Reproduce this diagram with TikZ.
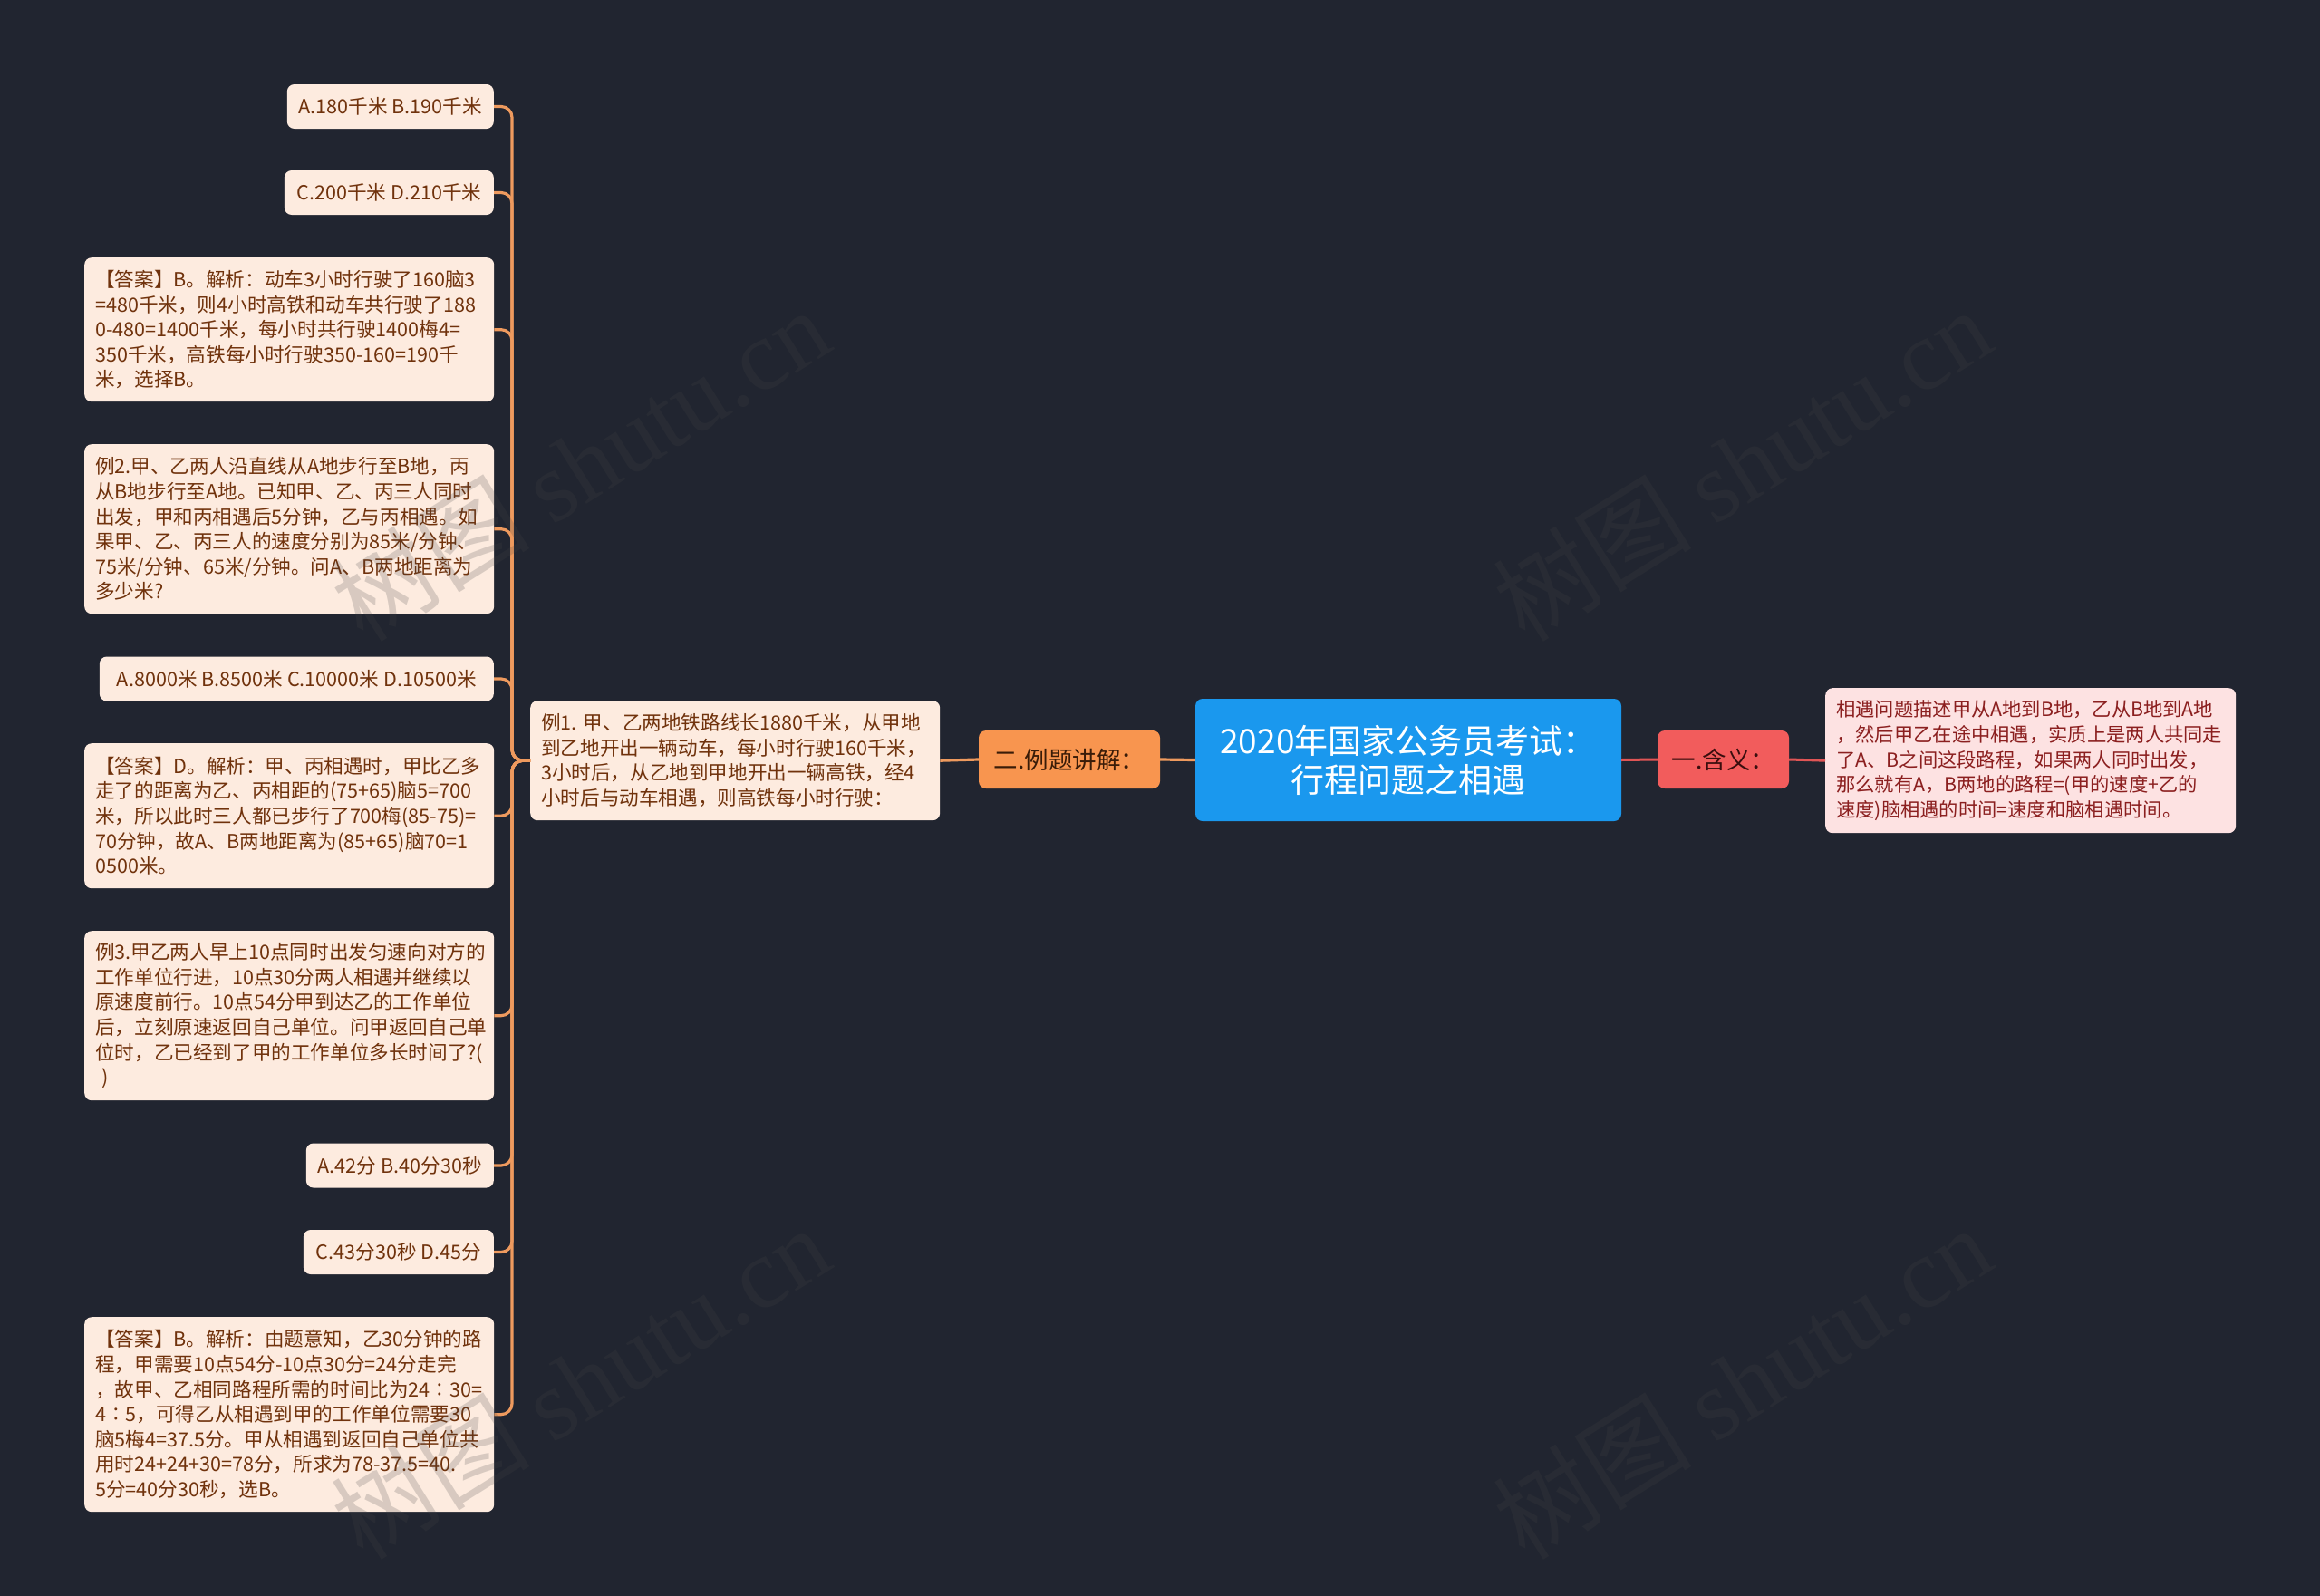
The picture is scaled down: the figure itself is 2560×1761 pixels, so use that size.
\documentclass[tikz,border=0pt]{standalone}
\usepackage{fontspec}
\setmainfont{Noto Sans CJK SC}
\newfontfamily\wmlatin{Liberation Serif}
\definecolor{bgc}{HTML}{212530}
\definecolor{peach}{HTML}{FDEBDF}
\definecolor{leaftext}{HTML}{70320C}
\definecolor{orl}{HTML}{EE9A5E}
\definecolor{orbox}{HTML}{F8954F}
\definecolor{ortext}{HTML}{3A1C08}
\definecolor{rootc}{HTML}{1A98EE}
\definecolor{redbox}{HTML}{F25C5C}
\definecolor{redtext}{HTML}{3A0E0E}
\definecolor{redl}{HTML}{E05555}
\definecolor{pinkbox}{HTML}{FDE2E2}
\definecolor{pinktext}{HTML}{8B1F1F}
\definecolor{wmgray}{HTML}{454545}
\exhyphenpenalty=10000
\hyphenpenalty=10000
\begin{document}
\begin{tikzpicture}[x=1pt,y=-1pt,
  leaf/.style={fill=peach, text=leaftext, rounded corners=8pt, inner xsep=12pt, inner ysep=6pt,
    font=\fontsize{21.6}{27.6}\selectfont},
  multi/.style={leaf, text width=428pt, align=left, minimum width=452pt, anchor=north west},
  opt/.style={leaf, minimum height=49pt, anchor=east},
  conn/.style={draw=orl, line width=3.2pt, rounded corners=12pt},
  rconn/.style={draw=redl, line width=3pt},
  wm/.style={text=wmgray, opacity=0.2, rotate=32, font=\fontsize{110}{110}\selectfont}
]
\fill[bgc] (0,0) rectangle (2560,1761);
\useasboundingbox (0,0) rectangle (2560,1761);

% central topic
\node[fill=rootc, text=white, rounded corners=8pt, minimum width=470pt, minimum height=135pt,
  align=center, font=\fontsize{37}{43}\selectfont] (root) at (1554,838.5)
  {2020年国家公务员考试：\\行程问题之相遇};

% right branch
\node[fill=redbox, text=redtext, rounded corners=8pt, minimum width=145pt, minimum height=64pt,
  font=\fontsize{26.5}{30}\selectfont] (cat1) at (1901.5,838) {一.含义：};
\node[fill=pinkbox, text=pinktext, rounded corners=8pt, inner xsep=12pt, inner ysep=6pt,
  text width=429pt, align=left, minimum width=453pt, minimum height=160pt, anchor=north west,
  font=\fontsize{21.3}{27.6}\selectfont] (rbox) at (2014,759)
  {相遇问题描述甲从A地到B地，乙从B地到A地\\
   ，然后甲乙在途中相遇，实质上是两人共同走\\
   了A、B之间这段路程，如果两人同时出发，\\
   那么就有A，B两地的路程=(甲的速度+乙的\\
   速度)脑相遇的时间=速度和脑相遇时间。};

% left branch
\node[fill=orbox, text=ortext, rounded corners=8pt, minimum width=200pt, minimum height=64pt,
  font=\fontsize{26.5}{30}\selectfont] (cat2) at (1180,838) {二.例题讲解：};
\node[multi, minimum height=132pt] (ex1) at (585,773)
  {例1.~甲、乙两地铁路线长1880千米，从甲地\\
   到乙地开出一辆动车，每小时行驶160千米，\\
   3小时后，从乙地到甲地开出一辆高铁，经4\\
   小时后与动车相遇，则高铁每小时行驶：};

% children of ex1
\node[opt, minimum width=228pt] (c1) at (545,117.5) {A.180千米 B.190千米};
\node[opt, minimum width=231pt] (c2) at (545,212.5) {C.200千米 D.210千米};
\node[multi, minimum height=159pt] (c3) at (93,284)
  {【答案】B。解析：动车3小时行驶了160脑3\\
   =480千米，则4小时高铁和动车共行驶了188\\
   0-480=1400千米，每小时共行驶1400梅4=\\
   350千米，高铁每小时行驶350-160=190千\\
   米，选择B。};
\node[multi, minimum height=187pt] (c4) at (93,490)
  {例2.甲、乙两人沿直线从A地步行至B地，丙\\
   从B地步行至A地。已知甲、乙、丙三人同时\\
   出发，甲和丙相遇后5分钟，乙与丙相遇。如\\
   果甲、乙、丙三人的速度分别为85米/分钟、\\
   75米/分钟、65米/分钟。问A、B两地距离为\\
   多少米?};
\node[opt, minimum width=435pt] (c5) at (545,749) {A.8000米 B.8500米 C.10000米 D.10500米};
\node[multi, minimum height=160pt] (c6) at (93,820)
  {【答案】D。解析：甲、丙相遇时，甲比乙多\\
   走了的距离为乙、丙相距的(75+65)脑5=700\\
   米，所以此时三人都已步行了700梅(85\mbox{-}75)=\\
   70分钟，故A、B两地距离为(85+65)脑70=1\\
   0500米。};
\node[multi, minimum height=187pt] (c7) at (93,1027)
  {例3.甲乙两人早上10点同时出发匀速向对方的\\
   工作单位行进，10点30分两人相遇并继续以\\
   原速度前行。10点54分甲到达乙的工作单位\\
   后，立刻原速返回自己单位。问甲返回自己单\\
   位时，乙已经到了甲的工作单位多长时间了?(\\
   ~)};
\node[opt, minimum width=207pt] (c8) at (545,1286) {A.42分 B.40分30秒};
\node[opt, minimum width=210pt] (c9) at (545,1381.5) {C.43分30秒 D.45分};
\node[multi, minimum height=215pt] (c10) at (93,1453)
  {【答案】B。解析：由题意知，乙30分钟的路\\
   程，甲需要10点54分\mbox{-}10点30分=24分走完\\
   ，故甲、乙相同路程所需的时间比为24∶30=\\
   4∶5，可得乙从相遇到甲的工作单位需要30\\
   脑5梅4=37.5分。甲从相遇到返回自己单位共\\
   用时24+24+30=78分，所求为78\mbox{-}37.5=40.\\
   5分=40分30秒，选B。};

% connectors
\draw[rconn] (root.east) -- (cat1.west);
\draw[rconn] (cat1.east) -- (rbox.west);
\draw[conn] (root.west) -- (cat2.east);
\draw[conn] (cat2.west) -- (ex1.east);
\foreach \c in {c1,c2,c3,c4,c5,c6,c7,c8,c9,c10}
  \draw[conn] (ex1.west) -- ++(-20,0) |- (\c.east);

% watermarks
\node[wm] (wm1) at (640,512) {树图 {\wmlatin shutu.cn}};
\node[wm] (wm2) at (1922,512) {树图 {\wmlatin shutu.cn}};
\node[wm] (wm3) at (640,1525) {树图 {\wmlatin shutu.cn}};
\node[wm] (wm4) at (1922,1525) {树图 {\wmlatin shutu.cn}};
\end{tikzpicture}
\end{document}
